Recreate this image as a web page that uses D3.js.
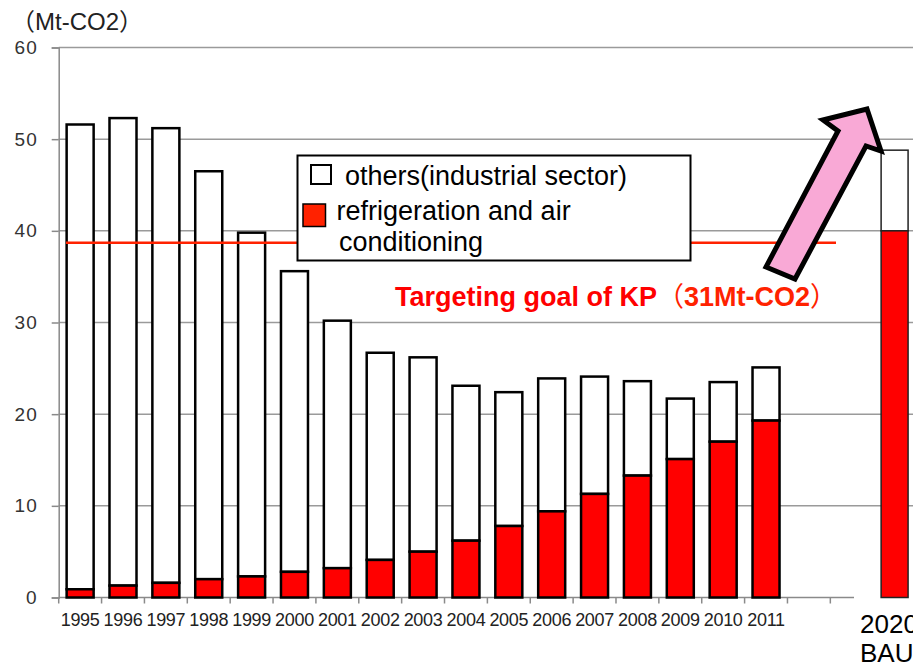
<!DOCTYPE html>
<html>
<head>
<meta charset="utf-8">
<script src="https://cdn.jsdelivr.net/npm/d3@7"></script>
<style>
  body { margin: 0; background: #fff; }
  svg { display: block; font-family: "Liberation Sans", Arial, sans-serif; }
</style>
</head>
<body>
<svg id="svg" width="913" height="669"></svg>
<script>
// data
const years = ['1995','1996','1997','1998','1999','2000','2001','2002','2003','2004','2005','2006','2007','2008','2009','2010','2011']
const blanks = ['_a', '_b']
const refrigeration = [0.9, 1.3, 1.6, 2.0, 2.3, 2.8, 3.2, 4.1, 5.0, 6.2, 7.8, 9.4, 11.3, 13.3, 15.1, 17.0, 19.3]
const totals = [51.6, 52.3, 51.2, 46.5, 39.8, 35.6, 30.2, 26.7, 26.2, 23.1, 22.4, 23.9, 24.1, 23.6, 21.7, 23.5, 25.1]
const bauLabel = ['2020', 'BAU']
const bauRefrigeration = 40.0
const bauTotal = 48.8
const yTicks = [0, 10, 20, 30, 40, 50, 60]
const kpTarget = 38.7

const svg = d3.select('#svg')

const y = d3.scaleLinear().domain([0, 60]).range([597.5, 47.5])
const x = d3.scaleBand().domain(years.concat(blanks)).range([58.7, 873.2])
  .paddingInner(0.37).paddingOuter(0.185)
const xBau = d3.scaleBand().domain(['bau']).range([873.2, 916])
  .paddingInner(0.37).paddingOuter(0.185)

// gridlines
svg.append('g')
  .selectAll('line')
  .data(yTicks.filter(d => d > 0))
  .enter()
  .append('line')
  .attr('x1', 58.7).attr('x2', 913)
  .attr('y1', d => y(d)).attr('y2', d => y(d))
  .attr('stroke', '#9a9a9a').attr('stroke-width', 1.5)

// y axis
const yAxis = svg.append('g')
  .attr('transform', 'translate(58.7,0)')
  .call(d3.axisLeft(y).tickValues(yTicks).tickSize(7).tickPadding(14))
yAxis.select('.domain').attr('stroke', '#8a8a8a').attr('stroke-width', 1.5)
yAxis.selectAll('.tick line').attr('stroke', '#8a8a8a').attr('stroke-width', 1.5)
yAxis.selectAll('.tick text')
  .attr('fill', '#333').style('font-size', '19px')
  .style('letter-spacing', '1px')
  .style('font-family', '"Liberation Sans", Arial, sans-serif')

// x axis: line, boundary ticks, labels
svg.append('line')
  .attr('x1', 58.7).attr('x2', 854)
  .attr('y1', y(0)).attr('y2', y(0))
  .attr('stroke', '#8a8a8a').attr('stroke-width', 1.5)

svg.append('g')
  .selectAll('line')
  .data(x.domain())
  .enter()
  .append('line')
  .attr('x1', d => x(d) - x.step() * x.paddingInner() / 2)
  .attr('x2', d => x(d) - x.step() * x.paddingInner() / 2)
  .attr('y1', y(0)).attr('y2', y(0) + 6)
  .attr('stroke', '#8a8a8a').attr('stroke-width', 1.5)

svg.append('g')
  .selectAll('text')
  .data(years)
  .enter()
  .append('text')
  .attr('x', d => x(d) + x.bandwidth() / 2)
  .attr('y', 625.5)
  .attr('text-anchor', 'middle')
  .attr('fill', '#222')
  .style('font-size', '18px')
  .style('letter-spacing', '-0.3px')
  .text(d => d)

// stacked bars: white (others) on top, red (refrigeration) at the bottom
const bars = svg.append('g')
bars.selectAll('.others')
  .data(years)
  .enter()
  .append('rect')
  .attr('class', 'others')
  .attr('x', d => x(d))
  .attr('width', x.bandwidth())
  .attr('y', (d, i) => y(totals[i]))
  .attr('height', (d, i) => y(refrigeration[i]) - y(totals[i]))
  .attr('fill', '#fff').attr('stroke', '#000').attr('stroke-width', 2.5)

bars.selectAll('.refr')
  .data(years)
  .enter()
  .append('rect')
  .attr('class', 'refr')
  .attr('x', d => x(d))
  .attr('width', x.bandwidth())
  .attr('y', (d, i) => y(refrigeration[i]))
  .attr('height', (d, i) => y(0) - y(refrigeration[i]))
  .attr('fill', '#ff0000').attr('stroke', '#000').attr('stroke-width', 2.5)

// target line
svg.append('line')
  .attr('x1', 66).attr('x2', 836)
  .attr('y1', y(kpTarget)).attr('y2', y(kpTarget))
  .attr('stroke', '#ff2200').attr('stroke-width', 2.5)

// legend
const legend = svg.append('g')
legend.append('rect')
  .attr('x', 297.5).attr('y', 155.5).attr('width', 393).attr('height', 105)
  .attr('fill', '#fff').attr('stroke', '#000').attr('stroke-width', 2)
legend.append('rect')
  .attr('x', 311).attr('y', 165).attr('width', 20).attr('height', 19)
  .attr('fill', '#fff').attr('stroke', '#000').attr('stroke-width', 2)
legend.append('rect')
  .attr('x', 303).attr('y', 204).attr('width', 22.5).attr('height', 22.5)
  .attr('fill', '#ff2200').attr('stroke', '#000').attr('stroke-width', 1.5)
const legendText = [
  { t: 'others(industrial sector)', x: 345, y: 185 },
  { t: 'refrigeration and air', x: 336.5, y: 220 },
  { t: 'conditioning', x: 339, y: 251 }
]
legend.selectAll('text')
  .data(legendText)
  .enter()
  .append('text')
  .attr('x', d => d.x).attr('y', d => d.y)
  .attr('fill', '#000')
  .style('font-size', '27px')
  .text(d => d.t)

// target annotation
const kp = svg.append('text')
  .attr('x', 395).attr('y', 306)
  .attr('fill', '#ff0000')
  .style('font-size', '27px')
  .style('font-weight', 'bold')
kp.append('tspan').text('Targeting goal of KP')
kp.append('tspan').attr('fill', '#ff2200')
  .style('font-family', '"Noto Sans CJK JP", sans-serif').style('font-weight', 'normal').text('（')
kp.append('tspan').attr('fill', '#ff2200').text('31Mt-CO2')
kp.append('tspan').attr('fill', '#ff2200')
  .style('font-family', '"Noto Sans CJK JP", sans-serif').style('font-weight', 'normal').text('）')

// unit label
svg.append('text')
  .attr('x', 11).attr('y', 30)
  .attr('fill', '#222')
  .style('font-size', '24px')
  .html('<tspan style="font-family:\'Noto Sans CJK JP\'">（</tspan>Mt-CO2<tspan style="font-family:\'Noto Sans CJK JP\'">）</tspan>')

// 2020 BAU bar
const bau = svg.append('g')
bau.append('rect')
  .attr('x', xBau('bau')).attr('width', xBau.bandwidth())
  .attr('y', y(bauTotal)).attr('height', y(bauRefrigeration) - y(bauTotal))
  .attr('fill', '#fff').attr('stroke', '#222').attr('stroke-width', 1.5)
bau.append('rect')
  .attr('x', xBau('bau')).attr('width', xBau.bandwidth())
  .attr('y', y(bauRefrigeration)).attr('height', y(0) - y(bauRefrigeration))
  .attr('fill', '#ff0000').attr('stroke', '#222').attr('stroke-width', 1.5)
bau.selectAll('text')
  .data(bauLabel)
  .enter()
  .append('text')
  .attr('x', 860)
  .attr('y', (d, i) => 633 + i * 29)
  .attr('fill', '#000')
  .style('font-size', '26px')
  .text(d => d)

// arrow pointing up to the 2020 bar
const arrowPts = [[766, 267], [795, 279], [866, 146], [881, 151], [867, 109], [823, 120], [838, 131]]
svg.append('polygon')
  .attr('points', arrowPts.map(p => p.join(',')).join(' '))
  .attr('fill', '#f9a9d6').attr('stroke', '#000').attr('stroke-width', 5)
  .attr('stroke-linejoin', 'miter')
</script>
</body>
</html>
